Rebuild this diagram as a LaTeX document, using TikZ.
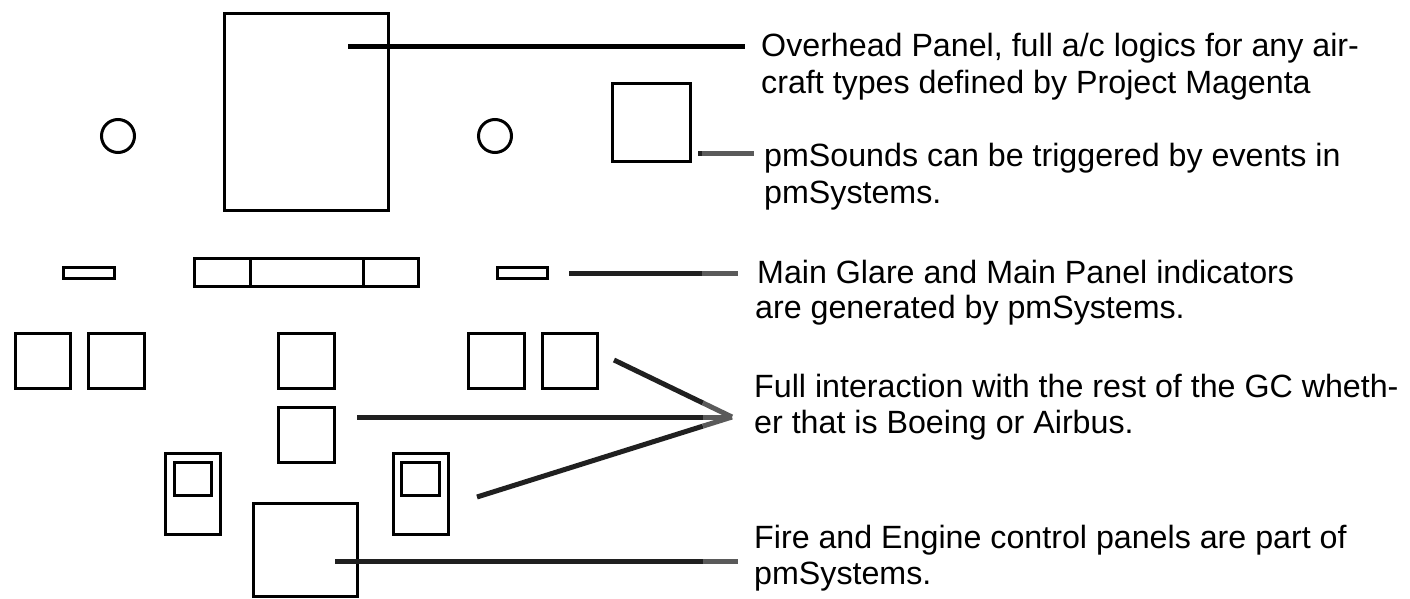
\documentclass[tikz,border=0pt]{standalone}
\usepackage{fontspec}
\setmainfont{Liberation Sans}
\usetikzlibrary{calc}
\definecolor{ldark}{HTML}{202020}
\definecolor{lgray}{HTML}{5A5A5A}
\tikzset{
  pbox/.style={draw=black, line width=3pt, inner sep=0pt, outer sep=0pt, fill=none},
  pcirc/.style={draw=black, line width=3pt, circle, inner sep=0pt, outer sep=0pt, minimum size=33pt},
  conn/.style={line width=5pt, ldark},
  conng/.style={line width=5pt, lgray},
  lbl/.style={anchor=base west, inner sep=0pt, font=\fontsize{32.2}{36}\selectfont}
}
\begin{document}
\begin{tikzpicture}[x=1pt,y=-1pt]
\useasboundingbox (0,0) rectangle (1410,599);
% panels
\node[pbox, minimum width=164pt, minimum height=197pt] (ovh) at (306.5,112) {};
\node[pcirc] (cl) at (118,136) {};
\node[pcirc] (cr) at (495,136) {};
\node[pbox, minimum width=78pt, minimum height=78pt] (snd) at (651.5,122.5) {};
\node[pbox, minimum width=51pt, minimum height=11pt] (gl) at (88.5,272.5) {};
\node[pbox, minimum width=50pt, minimum height=11pt] (gr) at (522.5,272.5) {};
\node[pbox, minimum width=224pt, minimum height=28pt] (gc) at (306.5,272.5) {};
\draw[line width=3pt] ($(gc.north)+(-56.5,0)$) -- ($(gc.south)+(-56.5,0)$);
\draw[line width=3pt] ($(gc.north)+(56.5,0)$) -- ($(gc.south)+(56.5,0)$);
\node[pbox, minimum width=55pt, minimum height=55pt] (l1) at (43,361) {};
\node[pbox, minimum width=56pt, minimum height=55pt] (l2) at (116.5,361) {};
\node[pbox, minimum width=56pt, minimum height=55pt] (m1) at (306.5,361) {};
\node[pbox, minimum width=56pt, minimum height=55pt] (r1) at (496.5,361) {};
\node[pbox, minimum width=55pt, minimum height=55pt] (r2) at (570,361) {};
\node[pbox, minimum width=56pt, minimum height=55pt] (m2) at (306.5,435) {};
\node[pbox, minimum width=55pt, minimum height=81pt] (dlo) at (193,494) {};
\node[pbox, minimum width=37pt, minimum height=33pt] (dli) at (193,479) {};
\node[pbox, minimum width=55pt, minimum height=81pt] (dro) at (421,494) {};
\node[pbox, minimum width=38pt, minimum height=33pt] (dri) at (420,479) {};
\node[pbox, minimum width=104pt, minimum height=93pt] (fire) at (305.5,550) {};
% labels
\node[lbl] (t1a) at (761,57) {Overhead Panel, full a/c logics for any air-};
\node[lbl] (t1b) at (761,94) {craft types defined by Project Magenta};
\node[lbl] (t2a) at (764,166) {pmSounds can be triggered by events in};
\node[lbl] (t2b) at (764,203) {pmSystems.};
\node[lbl] (t3a) at (757,283) {Main Glare and Main Panel indicators};
\node[lbl] (t3b) at (755,318) {are generated by pmSystems.};
\node[lbl] (t4a) at (754,397) {Full interaction with the rest of the GC wheth-};
\node[lbl] (t4b) at (754,433) {er that is Boeing or Airbus.};
\node[lbl] (t5a) at (754,548) {Fire and Engine control panels are part of};
\node[lbl] (t5b) at (754,584) {pmSystems.};
% connector end points
\coordinate (o1) at (348,47);   \coordinate (o2) at (745,47);
\coordinate (s1) at (698,153);  \coordinate (s0) at (702,153); \coordinate (s2) at (754,153);
\coordinate (g1) at (569,273);  \coordinate (gm) at (702,273); \coordinate (g2) at (738,273);
\coordinate (v)  at (732,417);
\coordinate (u1) at (614,360);
\coordinate (h1) at (357,417);  \coordinate (hm) at (703,417);
\coordinate (d1) at (477,497);
\coordinate (f1) at (335,561);  \coordinate (fm) at (703,561); \coordinate (f2) at (738,561);
% connectors
\draw[line width=5pt, black] (o1) -- (o2);
\draw[conn] (s1) -- (s0);
\draw[conng] (s0) -- (s2);
\draw[conn] (g1) -- (gm);
\draw[conng] (gm) -- (g2);
\draw[conn] (u1) -- ($(u1)!0.754!(v)$);
\draw[conng] ($(u1)!0.754!(v)$) -- (v);
\draw[conn] (h1) -- (hm);
\draw[conng] (hm) -- (v);
\draw[conn] (d1) -- ($(d1)!0.886!(v)$);
\draw[conng] ($(d1)!0.886!(v)$) -- (v);
\draw[conn] (f1) -- (fm);
\draw[conng] (fm) -- (f2);
\end{tikzpicture}
\end{document}
